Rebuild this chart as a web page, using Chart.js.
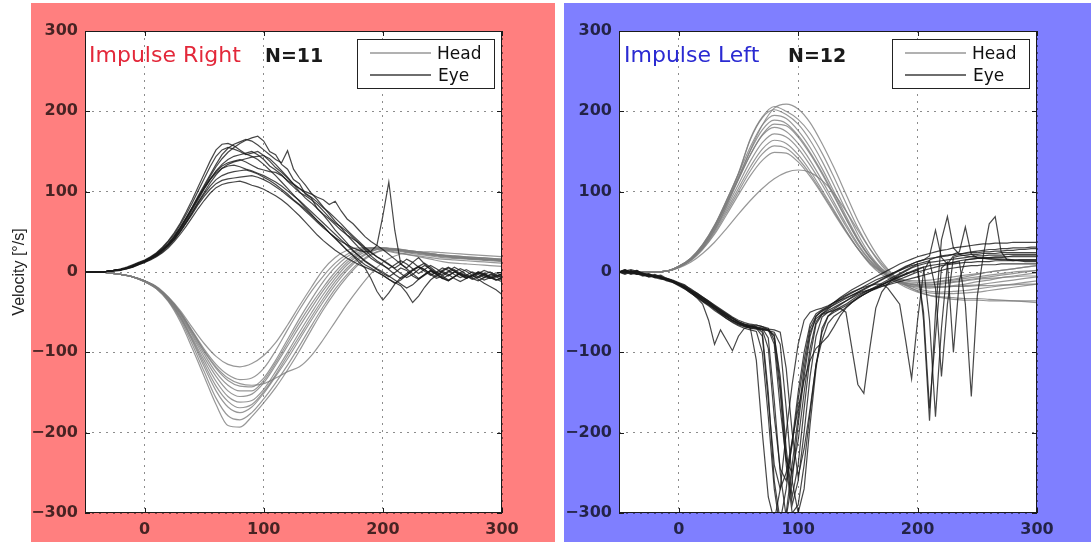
<!DOCTYPE html>
<html>
<head>
<meta charset="utf-8">
<script src="https://cdn.jsdelivr.net/npm/chart.js@4.4.0/dist/chart.umd.min.js"></script>
<style>
  html, body { margin: 0; padding: 0; background: #fff; width: 1091px; height: 542px; overflow: hidden; }
  .panel { position: absolute; }
  #bgLeft { left: 31px; top: 3px; width: 524px; height: 539px; background: #ff7f7f; }
  #bgRight { left: 564px; top: 3px; width: 527px; height: 539px; background: #7f7fff; }
  #wrapLeft { left: 0; top: 0; width: 555px; height: 542px; }
  #wrapRight { left: 555px; top: 0; width: 536px; height: 542px; }
</style>
</head>
<body>
<div id="bgLeft" class="panel"></div>
<div id="bgRight" class="panel"></div>
<div id="wrapLeft" class="panel"><canvas id="chartLeft" width="555" height="542"></canvas></div>
<div id="wrapRight" class="panel"><canvas id="chartRight" width="536" height="542"></canvas></div>
<script>
// Head / eye velocity traces, impulse right (red) and impulse left (blue)
// time axes in ms
const timeHead = [-50,-40,-30,-20,-10,0,10,20,30,40,50,60,70,80,90,100,110,120,130,140,
  150,160,170,180,190,200,210,220,230,240,250,260,270,280,290,300];
const timeEye = [-50,-45,-40,-35,-30,-25,-20,-15,-10,-5,0,5,10,15,20,25,30,35,40,45,
  50,55,60,65,70,75,80,85,90,95,100,105,110,115,120,125,130,135,140,145,
  150,155,160,165,170,175,180,185,190,195,200,205,210,215,220,225,230,235,240,245,
  250,255,260,265,270,275,280,285,290,295,300];
const xTicks = [0, 100, 200, 300];
const yTicks = [-300, -200, -100, 0, 100, 200, 300];

// ---- Impulse Right: head (deg/s) ----
const rightHead1 = [0,0,-1,-3,-6,-12,-21,-37,-62,-95, -130,-165,-191,-193,-180,-163,-144,-122,-98,-72, -47,-25,-6,10,21,27,28,27,25,23, 21,19,17,16,15,14];
const rightHead2 = [0,0,-1,-3,-6,-12,-21,-36,-59,-90, -124,-157,-179,-184,-175,-158,-138,-116,-92,-67, -43,-21,-3,12,22,27,27,26,24,22, 20,18,17,16,15,14];
const rightHead3 = [0,0,-1,-3,-6,-12,-20,-35,-57,-86, -118,-148,-168,-175,-168,-151,-130,-108,-84,-60, -37,-16,2,16,25,29,29,27,25,23, 21,20,19,18,17,16];
const rightHead4 = [0,0,-1,-3,-6,-12,-20,-35,-56,-84, -114,-142,-161,-169,-165,-149,-128,-104,-80,-56, -33,-12,5,18,26,29,28,26,24,22, 20,19,18,17,16,15];
const rightHead5 = [0,0,-1,-3,-6,-11,-20,-34,-55,-82, -110,-136,-155,-162,-160,-146,-124,-100,-75,-51, -28,-8,9,21,28,30,29,27,25,23, 21,20,19,18,17,16];
const rightHead6 = [0,0,-1,-3,-6,-11,-19,-33,-53,-79, -106,-130,-148,-155,-152,-138,-116,-92,-68,-45, -23,-4,12,23,29,30,28,26,24,22, 20,19,18,17,16,15];
const rightHead7 = [0,0,-1,-3,-6,-11,-19,-33,-52,-77, -102,-125,-141,-148,-148,-135,-113,-88,-63,-40, -19,0,15,25,30,30,28,25,23,21, 19,18,17,16,15,14];
const rightHead8 = [0,0,-1,-3,-6,-11,-19,-32,-51,-75, -99,-120,-135,-142,-143,-132,-110,-84,-58,-34, -12,6,19,27,30,29,27,24,22,20, 18,17,16,15,14,13];
const rightHead9 = [0,0,-1,-3,-6,-11,-19,-32,-50,-73, -96,-115,-128,-134,-132,-120,-98,-72,-47,-24, -5,11,22,28,29,27,24,22,20,18, 16,15,14,13,12,11];
const rightHead10 = [0,0,-1,-3,-6,-11,-18,-31,-48,-69, -89,-105,-115,-118,-114,-104,-88,-66,-42,-19, 3,18,27,30,30,28,25,22,19,16, 13,11,10,9,8,7];
const rightHead11 = [0,0,-1,-3,-6,-11,-19,-32,-50,-74, -98,-118,-132,-139,-141,-139,-132,-124,-118,-104, -84,-62,-40,-20,-2,12,20,24,25,25, 24,23,22,21,20,19];

// ---- Impulse Right: eye ----
const rightEye1 = [0,0,0,0,1,2,3,5,8,11, 14,18,22,28,35,44,55,67,80,93, 106,119,131,141,149,155,160,164,167,169,
  163,150,146,134,128,115,110,97,92,79, 71,62,52,44,36,27,20,13,8,3, -2,-6,-1,5,2,-5,-9,-4,1,-3,
  -8,-11,-6,-2,-5,-9,-6,-2,-6,-10, -8];
const rightEye2 = [0,0,0,0,1,2,3,5,8,11, 14,18,23,29,36,45,56,68,81,95, 108,121,134,146,154,159,162,165,163,158,
  152,146,140,136,151,128,117,108,98,90, 81,72,63,55,46,38,30,24,17,12, 8,4,9,14,10,4,-2,3,8,4,
  -1,-5,0,4,1,-4,-7,-3,0,-4, -6];
const rightEye3 = [0,0,0,0,1,2,4,6,9,12, 15,19,24,31,39,49,61,75,90,106, 122,138,152,159,160,157,152,147,144,140,
  134,127,120,112,104,96,88,80,72,64, 57,49,42,34,27,21,15,9,5,0, -4,-9,-14,-10,-4,2,6,3,-3,-8,
  -5,0,3,-2,-6,-4,-1,-5,-8,-5, -3];
const rightEye4 = [0,0,0,0,1,2,3,5,8,11, 14,18,23,30,38,47,59,72,86,101, 116,131,144,152,155,153,150,146,148,150,
  145,138,130,124,117,110,104,98,93,87, 80,74,67,60,52,45,38,31,25,19, 14,9,5,10,16,12,6,1,-4,0,
  5,2,-3,-7,-4,0,-3,-7,-4,-1, -4];
const rightEye5 = [0,0,0,0,1,2,3,5,7,10, 13,17,21,27,34,42,53,64,77,90, 103,115,126,134,140,144,146,148,150,146,
  140,132,127,121,113,106,99,95,90,84, 76,68,61,56,50,43,35,28,20,14, 9,3,-3,-8,-4,2,7,11,6,0,
  -5,-10,-6,-1,3,-1,-6,-10,-7,-3, -8];
const rightEye6 = [0,0,0,0,1,2,3,5,7,10, 13,17,21,27,33,41,51,62,74,87, 99,111,121,129,134,137,139,141,143,144,
  145,141,134,126,118,109,100,92,86,79, 72,66,59,52,46,41,36,30,24,19, 15,10,4,-2,-7,-3,3,8,4,-1,
  2,6,2,-3,-8,-5,0,-2,-6,-9, -12];
const rightEye7 = [0,0,0,0,1,2,3,5,7,10, 13,17,22,28,35,44,55,67,80,93, 105,116,125,132,136,138,140,137,133,129,
  127,125,124,120,114,109,104,100,97,93, 90,84,88,76,66,60,52,44,38,33, 28,22,16,10,5,12,18,10,3,-2,
  -3,1,6,2,-3,-7,-2,2,-1,-5, -2];
const rightEye8 = [0,0,0,0,1,2,3,5,7,10, 13,17,21,27,34,43,54,66,79,92, 104,115,123,129,132,133,131,128,126,123,
  120,116,112,107,101,95,89,82,75,68, 61,54,47,40,33,26,20,14,9,4, 0,-5,-10,-15,-20,-16,-9,-3,2,-2,
  -7,-11,-6,-1,-4,-8,-11,-7,-3,-6, -10];
const rightEye9 = [0,0,0,0,1,2,3,4,7,10, 13,16,20,26,33,41,51,62,74,86, 97,107,115,120,123,125,126,127,125,122,
  118,114,109,103,97,90,84,78,71,64, 57,49,42,35,27,20,12,5,-8,-24, -35,-26,-15,-7,-2,3,7,3,-2,-6,
  1,5,1,-4,-8,-4,0,-3,-7,-10, -7];
const rightEye10 = [0,0,0,0,1,2,3,4,6,9, 12,16,20,25,32,40,50,61,72,84, 94,103,110,114,116,117,118,119,120,118,
  115,111,106,101,95,89,83,76,69,62, 55,49,43,38,34,30,27,25,26,33, 70,112,52,10,4,-2,-8,-3,2,-3,
  -8,-4,0,-3,-7,-5,-1,-4,-8,-6, -4];
const rightEye11 = [0,0,0,0,1,1,2,4,6,9, 12,15,19,24,30,38,47,57,68,79, 89,98,105,109,111,112,113,111,108,106,
  103,99,95,90,84,77,70,62,54,46, 39,33,27,22,17,13,9,6,3,0, -4,-9,-13,-17,-26,-38,-30,-19,-10,-4,
  1,-3,-8,-12,-8,-4,-9,-14,-18,-22, -28];

// ---- Impulse Left: head ----
const leftHead1 = [0,0,0,0,1,6,15,30,52,82, 116,152,183,204,209,203,186,160,130,97, 64,36,13,-4,-15,-21,-24,-25,-24,-23, -21,-19,-17,-15,-13,-11];
const leftHead2 = [0,0,0,0,1,7,17,33,57,88, 122,166,193,206,200,190,173,148,118,86, 55,29,8,-7,-17,-23,-26,-27,-27,-26, -25,-23,-21,-19,-17,-15];
const leftHead3 = [0,0,0,0,1,7,17,34,58,89, 123,165,192,202,196,184,164,138,108,77, 47,22,4,-10,-19,-25,-29,-31,-32,-33, -33,-34,-35,-36,-37,-38];
const leftHead4 = [0,0,0,0,1,7,17,34,58,89, 122,156,183,195,191,176,155,129,100,70, 42,19,2,-10,-16,-19,-20,-19,-17,-15, -12,-10,-7,-5,-3,-1];
const leftHead5 = [0,0,0,0,1,7,16,33,56,86, 118,151,177,189,185,170,149,124,96,67, 40,18,2,-8,-14,-16,-16,-14,-12,-10, -8,-6,-4,-2,0,2];
const leftHead6 = [0,0,0,0,1,6,16,32,55,84, 115,146,171,184,182,168,147,122,94,66, 40,19,4,-6,-11,-13,-13,-11,-9,-6, -3,0,2,4,6,8];
const leftHead7 = [0,0,0,0,1,7,17,33,56,85, 116,146,170,180,175,160,139,114,87,60, 35,15,1,-8,-13,-15,-14,-12,-10,-8, -6,-4,-2,0,1,2];
const leftHead8 = [0,0,0,0,1,6,16,31,53,80, 109,138,161,172,168,154,133,109,83,57, 33,14,0,-9,-14,-16,-16,-15,-13,-11, -9,-8,-7,-6,-5,-5];
const leftHead9 = [0,0,0,0,1,6,15,30,51,77, 104,131,153,164,160,146,126,102,77,52, 29,10,-3,-11,-16,-18,-19,-19,-18,-18, -17,-17,-16,-16,-15,-15];
const leftHead10 = [0,0,0,0,1,6,15,29,49,74, 100,126,147,157,154,141,122,99,75,51, 29,11,-1,-9,-14,-17,-18,-18,-18,-17, -16,-14,-12,-10,-8,-6];
const leftHead11 = [0,0,0,0,1,5,12,23,37,54, 72,89,104,116,124,127,124,114,98,76, 52,29,10,-5,-16,-24,-29,-32,-34,-35, -35,-36,-36,-36,-36,-36];
const leftHead12 = [0,0,0,0,1,6,14,28,47,71, 96,120,139,149,148,137,119,97,73,50, 29,12,0,-7,-10,-11,-10,-8,-6,-4, -2,0,2,4,6,8];

// ---- Impulse Left: eye ----
const leftEye1 = [0,3,-1,2,-3,-2,-5,-4,-8,-10, -13,-16,-22,-26,-31,-36,-42,-47,-52,-57, -62,-65,-66,-68,-70,-82,-160,-250,-305,-260,
  -190,-130,-80,-55,-48,-44,-38,-32,-27,-22, -18,-14,-10,-6,-2,2,6,10,13,16, 19,21,23,25,27,28,30,31,32,33,
  34,35,35,36,36,36,37,37,37,37, 37];
const leftEye2 = [0,-2,1,-1,-4,-3,-6,-7,-9,-12, -15,-18,-23,-28,-33,-38,-44,-49,-55,-60, -64,-67,-70,-70,-71,-73,-78,-140,-230,-290,
  -260,-200,-130,-80,-56,-50,-48,-45,-50,-95, -140,-151,-95,-45,-25,-15,-8,-3,1,5, 8,10,12,13,14,15,16,17,18,19,
  20,20,21,21,21,22,22,22,22,22, 22];
const leftEye3 = [0,1,-2,0,-3,-5,-4,-7,-9,-11, -14,-18,-23,-27,-32,-37,-43,-48,-53,-58, -63,-66,-68,-69,-75,-150,-260,-310,-270,-210,
  -150,-100,-65,-52,-47,-43,-38,-33,-29,-25, -22,-19,-17,-15,-15,-20,-30,-40,-85,-133, -60,0,15,18,20,21,22,23,23,24,
  24,25,25,26,26,27,27,28,28,29, 29];
const leftEye4 = [0,-1,2,0,-2,-4,-5,-6,-8,-11, -14,-19,-24,-29,-34,-39,-45,-51,-56,-61, -64,-66,-67,-69,-70,-71,-72,-75,-120,-200,
  -255,-220,-170,-115,-75,-55,-48,-44,-40,-35, -30,-26,-22,-18,-14,-10,-6,-2,2,6, 10,-60,-185,-50,40,69,30,22,20,19,
  18,17,16,16,15,15,15,14,14,14, 14];
const leftEye5 = [0,2,0,-3,-1,-4,-6,-5,-9,-12, -16,-20,-24,-29,-35,-40,-46,-52,-58,-63, -67,-70,-72,-74,-100,-180,-270,-320,-300,-240,
  -180,-120,-75,-58,-52,-48,-44,-40,-36,-32, -28,-25,-22,-19,-16,-13,-10,-6,-3,0, 3,6,-60,-180,-70,10,20,22,24,25,
  26,27,28,28,29,29,30,30,30,31, 31];
const leftEye6 = [0,1,3,1,-2,-3,-5,-8,-10,-12, -15,-19,-25,-30,-36,-40,-45,-50,-55,-60, -65,-67,-69,-70,-71,-72,-80,-130,-220,-280,
  -240,-170,-105,-65,-53,-50,-46,-41,-36,-31, -26,-22,-18,-14,-10,-6,-2,2,6,10, 13,15,20,52,18,10,12,14,15,16,
  17,17,18,18,18,19,19,19,19,19, 19];
const leftEye7 = [0,-3,0,2,-2,-5,-3,-6,-9,-11, -14,-17,-21,-26,-31,-36,-41,-46,-51,-56, -60,-63,-65,-66,-68,-72,-90,-170,-235,-250,
  -210,-150,-95,-62,-52,-46,-40,-35,-30,-26, -22,-18,-14,-10,-7,-4,-1,2,5,8, 10,12,14,-20,-130,-40,18,20,21,22,
  22,23,23,23,24,24,24,24,24,24, 24];
const leftEye8 = [0,2,-2,1,-4,-3,-6,-7,-10,-13, -16,-21,-26,-31,-37,-42,-48,-53,-58,-62, -66,-68,-70,-71,-72,-73,-75,-90,-170,-260,
  -300,-270,-190,-120,-70,-55,-50,-46,-42,-37, -32,-28,-24,-20,-16,-12,-8,-5,-2,1, 4,6,8,9,10,11,12,13,-40,-155,
  -30,20,60,69,25,15,14,14,13,13, 13];
const leftEye9 = [0,-1,1,-2,-3,-6,-5,-8,-10,-12, -15,-19,-24,-29,-34,-38,-43,-48,-53,-58, -62,-65,-67,-69,-72,-95,-180,-245,-260,-215,
  -160,-110,-70,-55,-49,-45,-41,-37,-33,-29, -25,-21,-17,-13,-9,-5,-1,3,7,10, 13,15,17,18,19,20,22,25,56,22,
  18,17,17,16,16,16,15,15,15,15, 15];
const leftEye10 = [0,3,0,-2,-5,-3,-7,-9,-8,-11, -15,-20,-25,-32,-40,-60,-90,-72,-85,-98, -80,-70,-68,-66,-68,-70,-85,-150,-240,-300,
  -290,-240,-175,-115,-85,-64,-55,-50,-44,-38, -33,-28,-24,-20,-16,-12,-9,-6,-3,0, 2,-50,-170,-80,5,12,-100,-10,15,16,
  17,18,18,19,19,19,20,20,20,20, 20];
const leftEye11 = [0,0,-3,-1,-4,-6,-5,-8,-11,-13, -17,-21,-26,-31,-36,-41,-46,-51,-56,-60, -64,-67,-68,-70,-80,-160,-240,-270,-250,-210,
  -170,-135,-110,-95,-88,-80,-68,-55,-45,-38, -32,-28,-24,-21,-18,-15,-12,-9,-6,-3, 0,2,4,6,8,9,10,11,12,12,
  13,13,13,14,14,14,14,15,15,15, 15];
const leftEye12 = [0,1,-1,-3,-2,-5,-7,-6,-10,-12, -16,-19,-23,-28,-33,-38,-43,-49,-54,-58, -62,-65,-70,-110,-200,-280,-310,-270,-200,-140,
  -90,-60,-50,-47,-45,-42,-38,-35,-32,-29, -26,-24,-22,-20,-18,-16,-14,-12,-10,-8, -6,-4,-2,0,2,4,5,6,7,8,
  8,9,9,9,10,10,10,10,10,10, 10];

const headColor = 'rgba(125,125,125,0.8)';
const eyeColor = 'rgba(25,25,25,0.8)';
const gridColor = 'rgba(0,0,0,0.45)';
const tickColor = 'rgba(0,0,0,0.72)';

// MATLAB-style minus sign on tick labels
const tickLabel = v => String(v).replace('-', '\u2212');

function panelPlugin(cfg) {
  return {
    id: 'panel_' + cfg.id,
    beforeDraw(chart) {
      const a = chart.chartArea, ctx = chart.ctx;
      ctx.save();
      ctx.fillStyle = '#fff';
      ctx.fillRect(a.left, a.top, a.right - a.left, a.bottom - a.top);
      ctx.restore();
    },
    afterDraw(chart) {
      const a = chart.chartArea, ctx = chart.ctx;
      const xs = chart.scales.x, ys = chart.scales.y;
      ctx.save();
      // frame + inward ticks
      ctx.strokeStyle = '#1a1a1a';
      ctx.lineWidth = 1;
      ctx.strokeRect(a.left + 0.5, a.top + 0.5, a.right - a.left - 1, a.bottom - a.top - 1);
      ctx.beginPath();
      xTicks.forEach(v => {
        const px = Math.round(xs.getPixelForValue(v)) + 0.5;
        ctx.moveTo(px, a.bottom); ctx.lineTo(px, a.bottom - 5);
        ctx.moveTo(px, a.top); ctx.lineTo(px, a.top + 5);
      });
      yTicks.forEach(v => {
        const py = Math.round(ys.getPixelForValue(v)) + 0.5;
        ctx.moveTo(a.left, py); ctx.lineTo(a.left + 5, py);
        ctx.moveTo(a.right, py); ctx.lineTo(a.right - 5, py);
      });
      ctx.stroke();

      // panel title and count
      ctx.textBaseline = 'alphabetic';
      ctx.textAlign = 'left';
      ctx.font = '22px "DejaVu Sans"';
      ctx.fillStyle = cfg.titleColor;
      ctx.fillText(cfg.title, cfg.titleX, 62);
      ctx.font = 'bold 19px "DejaVu Sans"';
      ctx.fillStyle = '#1a1a1a';
      ctx.fillText(cfg.count, cfg.countX, 62);

      // legend
      const lx = cfg.legendX, ly = 39, lw = 137, lh = 49;
      ctx.fillStyle = '#fff';
      ctx.fillRect(lx, ly, lw, lh);
      ctx.strokeStyle = '#222';
      ctx.lineWidth = 1;
      ctx.strokeRect(lx + 0.5, ly + 0.5, lw, lh);
      ctx.lineWidth = 1.3;
      ctx.strokeStyle = 'rgba(140,140,140,0.9)';
      ctx.beginPath(); ctx.moveTo(lx + 13, 53); ctx.lineTo(lx + 74, 53); ctx.stroke();
      ctx.strokeStyle = 'rgba(40,40,40,0.9)';
      ctx.beginPath(); ctx.moveTo(lx + 13, 75); ctx.lineTo(lx + 74, 75); ctx.stroke();
      ctx.font = '17px "DejaVu Sans"';
      ctx.fillStyle = '#111';
      ctx.fillText('Head', lx + 80, 59);
      ctx.fillText('Eye', lx + 81, 81);
      ctx.restore();
    }
  };
}

function buildChart(canvasId, cfg) {
  const eyeSets = cfg.eye.map(vals => ({
    label: 'Eye',
    data: vals.map((v, i) => ({ x: timeEye[i], y: v })),
    borderColor: eyeColor,
    borderWidth: 1.2,
    pointRadius: 0,
    tension: 0
  }));
  const headSets = cfg.head.map(vals => ({
    label: 'Head',
    data: vals.map((v, i) => ({ x: timeHead[i], y: v })),
    borderColor: headColor,
    borderWidth: 1.2,
    pointRadius: 0,
    cubicInterpolationMode: 'monotone'
  }));
  return new Chart(document.getElementById(canvasId), {
    type: 'line',
    data: { datasets: eyeSets.concat(headSets) },
    options: {
      responsive: false,
      animation: false,
      events: [],
      layout: { padding: { top: 31, right: cfg.padRight, bottom: 0, left: 0 } },
      plugins: { legend: { display: false }, tooltip: { enabled: false } },
      scales: {
        x: {
          type: 'linear', min: -50, max: 300,
          afterBuildTicks: s => { s.ticks = xTicks.map(v => ({ value: v })); },
          afterFit: s => { s.height = 29; },
          grid: { color: gridColor, drawTicks: false, lineWidth: 1 },
          border: { display: false, dash: [2, 5] },
          ticks: { autoSkip: false, maxRotation: 0, padding: 7, color: tickColor,
                   callback: tickLabel,
                   font: { family: 'DejaVu Sans', size: 16, weight: 'bold' } }
        },
        y: {
          type: 'linear', min: -300, max: 300,
          afterBuildTicks: s => { s.ticks = yTicks.map(v => ({ value: v })); },
          afterFit: s => { s.width = cfg.axisWidth; },
          grid: { color: gridColor, drawTicks: false, lineWidth: 1 },
          border: { display: false, dash: [2, 5] },
          ticks: { autoSkip: false, padding: cfg.tickPad, color: tickColor,
                   callback: tickLabel,
                   font: { family: 'DejaVu Sans', size: 16, weight: 'bold' } },
          title: {
            display: !!cfg.yTitle,
            text: cfg.yTitle || '',
            color: '#222',
            padding: { top: 10, bottom: 0 },
            font: { family: 'Liberation Sans', size: 16 }
          }
        }
      }
    },
    plugins: [panelPlugin(cfg)]
  });
}

buildChart('chartLeft', {
  id: 'right',
  title: 'Impulse Right', titleColor: '#e3283a', titleX: 89,
  count: 'N=11', countX: 265,
  legendX: 357,
  axisWidth: 85, padRight: 53, tickPad: 7,
  yTitle: 'Velocity [°/s]',
  head: [rightHead1, rightHead2, rightHead3, rightHead4, rightHead5, rightHead6,
         rightHead7, rightHead8, rightHead9, rightHead10, rightHead11],
  eye: [rightEye1, rightEye2, rightEye3, rightEye4, rightEye5, rightEye6,
        rightEye7, rightEye8, rightEye9, rightEye10, rightEye11]
});

buildChart('chartRight', {
  id: 'left',
  title: 'Impulse Left', titleColor: '#2a2ad2', titleX: 69,
  count: 'N=12', countX: 233,
  legendX: 337,
  axisWidth: 64, padRight: 54, tickPad: 7,
  yTitle: null,
  head: [leftHead1, leftHead2, leftHead3, leftHead4, leftHead5, leftHead6,
         leftHead7, leftHead8, leftHead9, leftHead10, leftHead11, leftHead12],
  eye: [leftEye1, leftEye2, leftEye3, leftEye4, leftEye5, leftEye6,
        leftEye7, leftEye8, leftEye9, leftEye10, leftEye11, leftEye12]
});
</script>
</body>
</html>
